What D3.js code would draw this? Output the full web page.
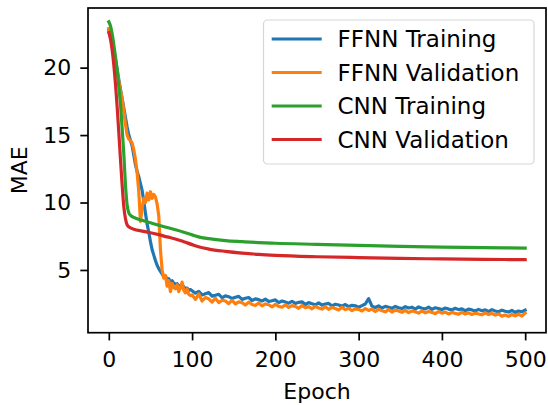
<!DOCTYPE html>
<html>
<head>
<meta charset="utf-8">
<script src="https://cdn.jsdelivr.net/npm/d3@7"></script>
<style>
  html, body { margin: 0; padding: 0; background: #fff; }
  svg { display: block; }
  text { font-family: "DejaVu Sans", sans-serif; }
</style>
</head>
<body>
<svg id="chart" width="548" height="405"></svg>
<script>
// ---------------- data ----------------
const seriesNames = ["FFNN Training", "FFNN Validation", "CNN Training", "CNN Validation"];
const xTicks = [0, 100, 200, 300, 400, 500];
const yTicks = [5, 10, 15, 20];

// FFNN epochs: every 2 epochs up to 98, then every 4 epochs to 500
const ffnnEpochs = [...d3.range(0, 100, 2), ...d3.range(100, 501, 4)];

const ffnnTrain = [
  22.8, 22.5, 22.0, 21.3, 20.6, 19.9, 19.1, 18.4, 17.7, 17.0, 16.3, 15.6, 15.0, 14.6, 14.2, 13.5,
  12.8, 12.3, 11.9, 11.4, 10.9, 10.1, 9.2, 8.4, 7.8, 7.1, 6.5, 6.1, 5.7, 5.35, 5.1, 4.9,
  4.7, 4.5, 4.55, 4.3, 4.35, 4.12, 4.2, 4.02, 3.95, 3.98, 3.8, 3.86, 3.7, 3.76, 3.6, 3.66, 3.5, 3.55,
  // 100..500 step 4
  3.46, 3.28, 3.42, 3.15, 3.24, 3.32, 3.06, 3.12, 3.20, 2.94,
  3.08, 3.02, 2.88, 2.98, 3.04, 2.82, 2.90, 2.96, 2.74, 2.86,
  2.80, 2.70, 2.84, 2.66, 2.72, 2.78, 2.58, 2.70, 2.62, 2.54,
  2.68, 2.52, 2.60, 2.64, 2.44, 2.58, 2.50, 2.42, 2.56, 2.40,
  2.48, 2.52, 2.34, 2.46, 2.40, 2.32, 2.44, 2.28, 2.38, 2.34,
  2.24, 2.36, 2.48, 2.88, 2.32, 2.22, 2.34, 2.18, 2.30, 2.24,
  2.16, 2.30, 2.20, 2.14, 2.28, 2.18, 2.24, 2.10, 2.26, 2.16,
  2.12, 2.24, 2.08, 2.20, 2.14, 2.06, 2.18, 2.10, 2.04, 2.16,
  2.06, 2.12, 1.98, 2.10, 2.04, 1.96, 2.08, 1.98, 2.04, 1.92,
  2.06, 1.96, 1.90, 2.02, 1.94, 1.88, 2.00, 1.86, 1.96, 1.90,
  2.02
];

const ffnnVal = [
  22.9, 22.5, 21.9, 21.2, 20.5, 19.7, 19.0, 18.3, 17.7, 16.8,
  15.8, 15.0, 14.7, 14.6, 14.4, 13.9, 13.2, 12.2, 10.8, 8.6,
  9.6, 10.3, 10.0, 10.7, 10.2, 10.8, 10.3, 10.6, 10.4, 9.9,
  9.0, 6.5, 5.0, 4.4, 4.6, 3.8, 4.2, 3.4, 4.0, 3.7,
  3.6, 3.9, 3.4, 3.7, 4.1, 3.5, 3.3, 3.6, 3.2, 3.1,
  // 100..500 step 4
  3.15, 2.82, 3.22, 2.70, 2.96, 2.86, 2.62, 2.90, 2.58, 2.76,
  2.70, 2.50, 2.74, 2.48, 2.64, 2.58, 2.40, 2.62, 2.44, 2.36,
  2.56, 2.34, 2.48, 2.42, 2.26, 2.46, 2.30, 2.24, 2.42, 2.22,
  2.36, 2.30, 2.16, 2.36, 2.20, 2.28, 2.12, 2.30, 2.18, 2.10,
  2.28, 2.08, 2.22, 2.14, 2.04, 2.24, 2.06, 2.16, 1.98, 2.12,
  2.08, 1.96, 2.14, 2.00, 2.10, 1.92, 2.08, 1.98, 1.90, 2.06,
  1.88, 2.02, 1.96, 1.86, 2.00, 1.84, 1.96, 1.90, 1.80, 1.96,
  1.82, 1.92, 1.86, 1.76, 1.92, 1.80, 1.88, 1.74, 1.86, 1.78,
  1.72, 1.86, 1.74, 1.82, 1.70, 1.80, 1.74, 1.68, 1.82, 1.70,
  1.78, 1.66, 1.74, 1.58, 1.66, 1.56, 1.70, 1.60, 1.72, 1.58,
  1.80
];

const cnnEpochs = [0, 2, 4, 6, 8, 10, 12, 14, 16, 18, 20, 22, 24, 26, 30, 40, 50, 60, 70, 80,
                   90, 100, 110, 120, 140, 160, 180, 200, 250, 300, 350, 400, 450, 500];

const cnnTrain = [23.4, 23.1, 22.5, 21.7, 20.8, 19.8, 18.6, 17.3, 15.5, 13.6, 11.3, 9.8, 9.25, 9.05, 8.9,
                  8.68, 8.5, 8.32, 8.15, 7.98, 7.8, 7.6, 7.42, 7.32, 7.18, 7.1, 7.03, 6.98, 6.9,
                  6.82, 6.75, 6.7, 6.66, 6.62];

const cnnVal = [22.6, 22.1, 21.3, 20.2, 18.8, 17.1, 15.2, 13.2, 11.3, 9.7, 8.8, 8.35, 8.2, 8.12, 8.02,
                7.88, 7.76, 7.62, 7.45, 7.3, 7.1, 6.88, 6.68, 6.55, 6.38, 6.25, 6.15, 6.08, 5.98,
                5.92, 5.86, 5.82, 5.79, 5.76];

const colors = ["#1f77b4", "#ff7f0e", "#2ca02c", "#d62728"];

// ---------------- layout ----------------
const svg = d3.select("#chart");
const L = 88, R = 546, T = 8, B = 332.7;
const FS = 22, LFS = 23;

const x = d3.scaleLinear().domain([-25, 525]).range([L, R]);
const y = d3.scaleLinear().domain([0.35, 24.42]).range([B, T]);

svg.append("defs").append("clipPath").attr("id", "clip")
  .append("rect").attr("x", L).attr("y", T).attr("width", R - L).attr("height", B - T);

const series = [
  {name: seriesNames[0], xs: ffnnEpochs, ys: ffnnTrain, curve: d3.curveLinear},
  {name: seriesNames[1], xs: ffnnEpochs, ys: ffnnVal, curve: d3.curveLinear},
  {name: seriesNames[2], xs: cnnEpochs, ys: cnnTrain, curve: d3.curveMonotoneX},
  {name: seriesNames[3], xs: cnnEpochs, ys: cnnVal, curve: d3.curveMonotoneX}
];

const g = svg.append("g").attr("clip-path", "url(#clip)");
series.forEach((s, i) => {
  const pts = s.xs.map((e, k) => [e, s.ys[k]]);
  const line = d3.line().x(d => x(d[0])).y(d => y(d[1])).curve(s.curve);
  g.append("path").datum(pts)
    .attr("d", line)
    .attr("fill", "none")
    .attr("stroke", colors[i])
    .attr("stroke-width", 3.2)
    .attr("stroke-linejoin", "round")
    .attr("stroke-linecap", "square");
});

// axes
const xAxis = d3.axisBottom(x).tickValues(xTicks).tickSize(7.7).tickPadding(11);
const yAxis = d3.axisLeft(y).tickValues(yTicks).tickSize(7.7).tickPadding(9);

const gx = svg.append("g").attr("transform", `translate(0,${B})`).call(xAxis);
const gy = svg.append("g").attr("transform", `translate(${L},0)`).call(yAxis);
[gx, gy].forEach(a => {
  a.select(".domain").remove();
  a.selectAll(".tick line").attr("stroke", "#000").attr("stroke-width", 1.7);
  a.selectAll(".tick text").attr("fill", "#000").style("font-size", FS + "px")
    .style("font-family", "'DejaVu Sans', sans-serif");
});

// spines
svg.append("rect").attr("x", L).attr("y", T).attr("width", R - L).attr("height", B - T)
  .attr("fill", "none").attr("stroke", "#000").attr("stroke-width", 1.7);

// axis labels
svg.append("text").attr("x", (L + R) / 2).attr("y", 399).attr("text-anchor", "middle")
  .style("font-size", FS + "px").text("Epoch");
svg.append("text").attr("transform", `translate(27,${(T + B) / 2}) rotate(-90)`)
  .attr("text-anchor", "middle").style("font-size", FS + "px").text("MAE");

// legend
const lg = svg.append("g");
lg.append("rect").attr("x", 263.5).attr("y", 20).attr("width", 270.5).attr("height", 144)
  .attr("rx", 4).attr("ry", 4)
  .attr("fill", "rgba(255,255,255,0.8)").attr("stroke", "#d6d6d6").attr("stroke-width", 1.2);
const rowY = [39, 72.5, 106, 139.5];
seriesNames.forEach((n, i) => {
  lg.append("line").attr("x1", 271.7).attr("x2", 321.7).attr("y1", rowY[i]).attr("y2", rowY[i])
    .attr("stroke", colors[i]).attr("stroke-width", 3.2);
  lg.append("text").attr("x", 337.5).attr("y", rowY[i] + 8.3)
    .style("font-size", LFS + "px").attr("fill", "#000").text(n);
});
</script>
</body>
</html>
